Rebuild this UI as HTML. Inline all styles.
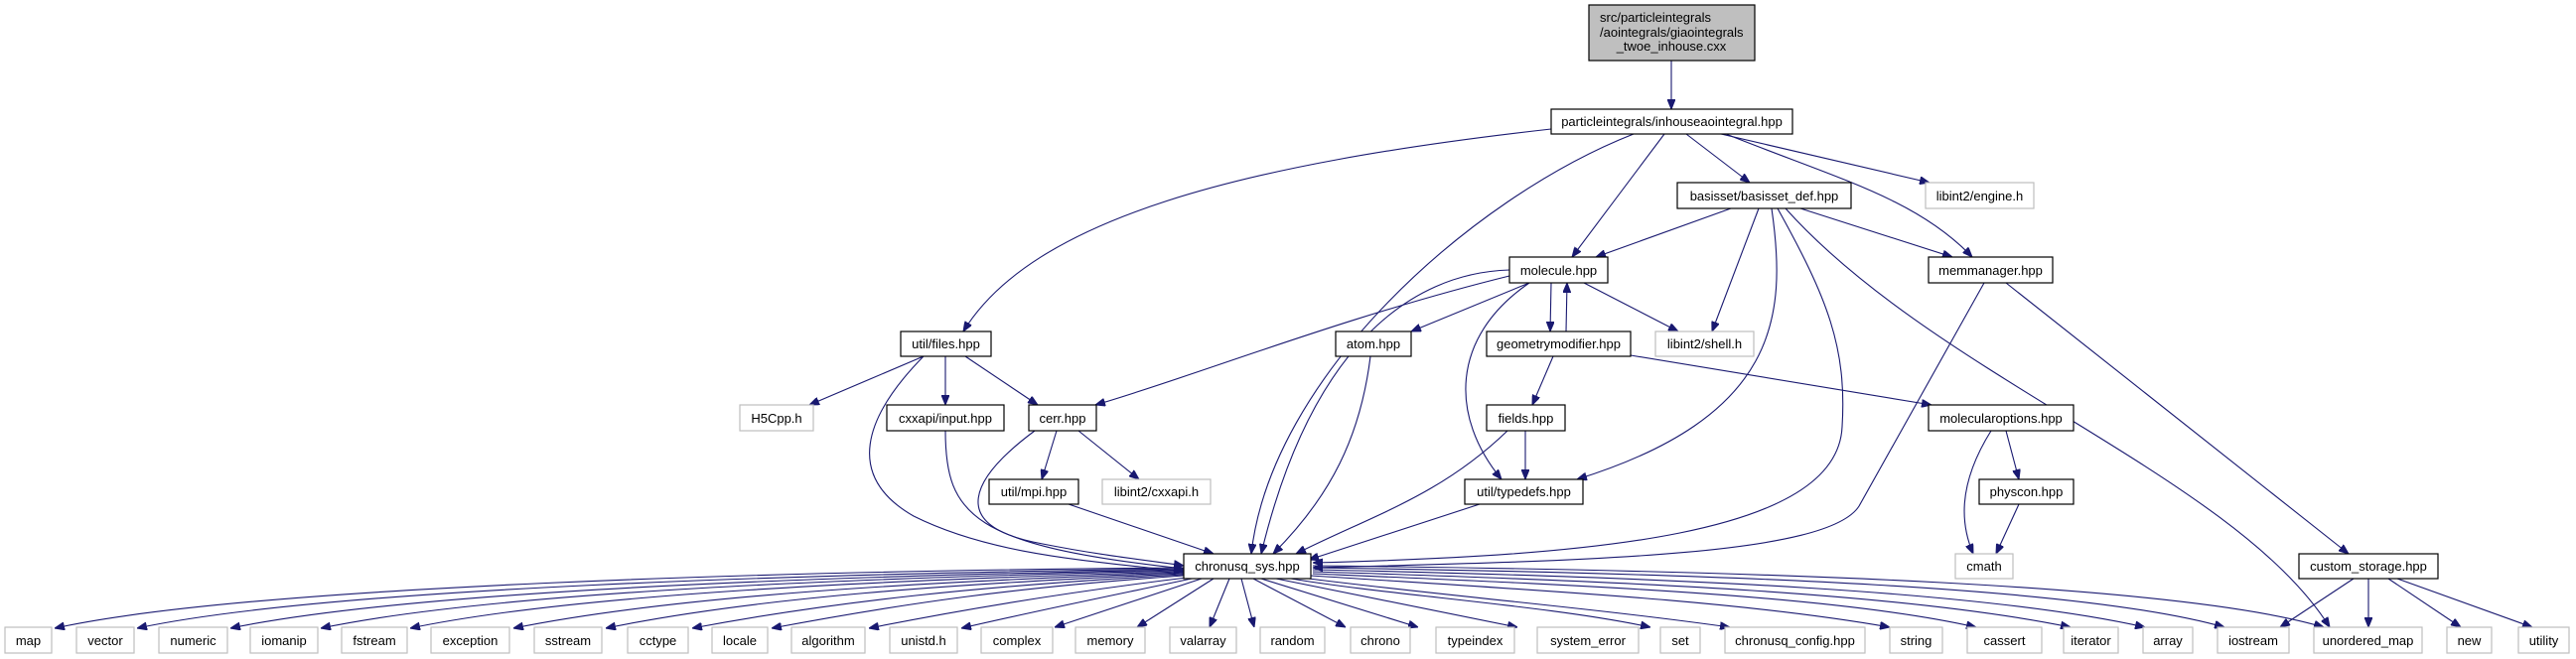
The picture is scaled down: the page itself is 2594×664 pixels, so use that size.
<!DOCTYPE html>
<html><head><meta charset="utf-8"><style>
html,body{margin:0;padding:0;background:#fff;}
svg{display:block;}
text{font-family:"Liberation Sans",Arial,sans-serif;font-size:13px;fill:#000;}
.b{fill:#fff;stroke:#000;stroke-width:1.2;}
.g{fill:#fff;stroke:#bfbfbf;stroke-width:1.2;}
.e{fill:none;stroke:#191970;stroke-width:1.1;}
</style></head><body>
<svg width="2594" height="664" viewBox="0 0 2594 664" xmlns="http://www.w3.org/2000/svg">
<defs><marker id="a" markerWidth="10" markerHeight="8" refX="10" refY="4" orient="auto" markerUnits="userSpaceOnUse"><path d="M0,0 L10,4 L0,8 z" fill="#191970" stroke="#191970"/></marker></defs>
<g class="e" marker-end="url(#a)">
<path d="M1683,61 L1683,110"/>
<path d="M1562,130 C1250,165 1040,220 970,334"/>
<path d="M1645,135 C1480,200 1280,380 1260,558"/>
<path d="M1676,135 L1583,259"/>
<path d="M1698,135 L1762,184"/>
<path d="M1733,135 L1943,184"/>
<path d="M1738,135 C1850,180 1930,200 1986,259"/>
<path d="M1743,210 L1607,259"/>
<path d="M1813,210 L1966,259"/>
<path d="M1771,210 L1724,334"/>
<path d="M1784,210 C1800,320 1790,420 1588,483"/>
<path d="M1790,210 C1840,300 1860,350 1855,430 C1850,540 1600,560 1322,567"/>
<path d="M1798,210 C1950,380 2250,480 2346,632"/>
<path d="M1540,285 C1460,340 1460,420 1512,483"/>
<path d="M1520,272 C1420,275 1320,350 1270,558"/>
<path d="M1520,278 C1350,320 1200,380 1103,408"/>
<path d="M1540,285 L1421,334"/>
<path d="M1562,285 L1561,334"/>
<path d="M1577,334 L1578,285"/>
<path d="M1595,285 L1690,334"/>
<path d="M1564,359 L1543,408"/>
<path d="M1642,358 L1945,408"/>
<path d="M1536,434 L1536,483"/>
<path d="M1518,434 C1450,500 1380,520 1305,558"/>
<path d="M1490,508 L1318,564"/>
<path d="M1998,285 L1872,510 C1840,560 1600,565 1322,572"/>
<path d="M2020,285 L2365,558"/>
<path d="M2020,434 L2033,483"/>
<path d="M2005,434 C1970,490 1975,530 1987,558"/>
<path d="M2033,508 L2010,558"/>
<path d="M930,359 L815,408"/>
<path d="M952,359 L952,408"/>
<path d="M972,359 L1045,408"/>
<path d="M930,359 C870,420 850,480 920,520 C1000,560 1100,565 1192,576"/>
<path d="M952,434 C952,520 980,550 1192,573"/>
<path d="M1042,434 C980,480 950,530 1050,548 C1110,560 1160,565 1192,570"/>
<path d="M1064,434 L1049,483"/>
<path d="M1086,434 L1147,483"/>
<path d="M1076,508 L1222,558"/>
<path d="M1380,359 C1370,440 1340,500 1282,558"/>
<path d="M2370,583 L2296,632"/>
<path d="M2385,583 L2385,632"/>
<path d="M2405,583 L2478,632"/>
<path d="M2414,583 L2550,632"/>
<path d="M1192,572 C800,575 250,590 55,633"/>
<path d="M1192,573 C820,578 330,592 138,633"/>
<path d="M1192,574 C850,580 420,594 232,633"/>
<path d="M1192,575 C870,582 500,596 323,633"/>
<path d="M1192,576 C900,584 580,598 413,633"/>
<path d="M1192,577 C930,586 680,600 517,633"/>
<path d="M1192,578 C960,588 760,602 610,633"/>
<path d="M1192,579 C990,590 840,606 697,633"/>
<path d="M1192,580 C1020,592 910,608 777,633"/>
<path d="M1195,582 C1080,596 980,612 875,633"/>
<path d="M1200,583 C1120,600 1050,614 968,633"/>
<path d="M1210,583 L1062,632"/>
<path d="M1222,583 L1145,632"/>
<path d="M1238,583 L1218,632"/>
<path d="M1250,583 L1263,632"/>
<path d="M1262,583 L1355,632"/>
<path d="M1270,583 L1428,632"/>
<path d="M1285,583 L1528,632"/>
<path d="M1300,583 C1400,600 1560,610 1662,632"/>
<path d="M1310,582 C1450,600 1600,612 1742,632"/>
<path d="M1320,580 C1550,595 1750,605 1903,632"/>
<path d="M1322,578 C1600,590 1850,600 1990,632"/>
<path d="M1322,576 C1650,586 1920,598 2085,632"/>
<path d="M1322,574 C1700,582 2000,596 2160,632"/>
<path d="M1322,572 C1750,578 2100,592 2240,632"/>
<path d="M1322,570 C1800,575 2200,590 2340,632"/>
</g>
<rect x="1600" y="5" width="167" height="56" fill="#bfbfbf" stroke="#000" stroke-width="1.2"/>
<text x="1611" y="22">src/particleintegrals</text>
<text x="1611" y="37">/aointegrals/giaointegrals</text>
<text x="1683" y="51" text-anchor="middle">_twoe_inhouse.cxx</text>
<g text-anchor="middle">
<rect class="b" x="1562" y="110" width="243" height="25"/><text x="1683.5" y="127">particleintegrals/inhouseaointegral.hpp</text>
<rect class="b" x="1689" y="184" width="175" height="26"/><text x="1776.5" y="202">basisset/basisset_def.hpp</text>
<rect class="g" x="1939" y="184" width="109" height="26"/><text x="1993.5" y="202">libint2/engine.h</text>
<rect class="b" x="1520" y="259" width="99" height="26"/><text x="1569.5" y="277">molecule.hpp</text>
<rect class="b" x="1942" y="259" width="125" height="26"/><text x="2004.5" y="277">memmanager.hpp</text>
<rect class="b" x="907" y="334" width="91" height="25"/><text x="952.5" y="351">util/files.hpp</text>
<rect class="b" x="1345" y="334" width="76" height="25"/><text x="1383" y="351">atom.hpp</text>
<rect class="b" x="1497" y="334" width="145" height="25"/><text x="1569.5" y="351">geometrymodifier.hpp</text>
<rect class="g" x="1667" y="334" width="99" height="25"/><text x="1716.5" y="351">libint2/shell.h</text>
<rect class="g" x="745" y="408" width="74" height="26"/><text x="782" y="426">H5Cpp.h</text>
<rect class="b" x="893" y="408" width="118" height="26"/><text x="952" y="426">cxxapi/input.hpp</text>
<rect class="b" x="1036" y="408" width="68" height="26"/><text x="1070" y="426">cerr.hpp</text>
<rect class="b" x="1497" y="408" width="79" height="26"/><text x="1536.5" y="426">fields.hpp</text>
<rect class="b" x="1942" y="408" width="146" height="26"/><text x="2015" y="426">molecularoptions.hpp</text>
<rect class="b" x="996" y="483" width="90" height="25"/><text x="1041" y="500">util/mpi.hpp</text>
<rect class="g" x="1110" y="483" width="109" height="25"/><text x="1164.5" y="500">libint2/cxxapi.h</text>
<rect class="b" x="1475" y="483" width="119" height="25"/><text x="1534.5" y="500">util/typedefs.hpp</text>
<rect class="b" x="1993" y="483" width="95" height="25"/><text x="2040.5" y="500">physcon.hpp</text>
<rect class="b" x="1192" y="558" width="128" height="25"/><text x="1256" y="575">chronusq_sys.hpp</text>
<rect class="g" x="1969" y="558" width="58" height="25"/><text x="1998" y="575">cmath</text>
<rect class="b" x="2315" y="558" width="140" height="25"/><text x="2385" y="575">custom_storage.hpp</text>
</g>
<g text-anchor="middle">
<rect class="g" x="5" y="632" width="47" height="26"/><text x="28.5" y="650">map</text>
<rect class="g" x="77" y="632" width="58" height="26"/><text x="106" y="650">vector</text>
<rect class="g" x="160" y="632" width="69" height="26"/><text x="194.5" y="650">numeric</text>
<rect class="g" x="252" y="632" width="68" height="26"/><text x="286" y="650">iomanip</text>
<rect class="g" x="344" y="632" width="66" height="26"/><text x="377" y="650">fstream</text>
<rect class="g" x="434" y="632" width="79" height="26"/><text x="473.5" y="650">exception</text>
<rect class="g" x="538" y="632" width="68" height="26"/><text x="572" y="650">sstream</text>
<rect class="g" x="632" y="632" width="61" height="26"/><text x="662.5" y="650">cctype</text>
<rect class="g" x="717" y="632" width="56" height="26"/><text x="745" y="650">locale</text>
<rect class="g" x="797" y="632" width="74" height="26"/><text x="834" y="650">algorithm</text>
<rect class="g" x="896" y="632" width="68" height="26"/><text x="930" y="650">unistd.h</text>
<rect class="g" x="988" y="632" width="72" height="26"/><text x="1024" y="650">complex</text>
<rect class="g" x="1083" y="632" width="70" height="26"/><text x="1118" y="650">memory</text>
<rect class="g" x="1178" y="632" width="67" height="26"/><text x="1211.5" y="650">valarray</text>
<rect class="g" x="1269" y="632" width="65" height="26"/><text x="1301.5" y="650">random</text>
<rect class="g" x="1360" y="632" width="60" height="26"/><text x="1390" y="650">chrono</text>
<rect class="g" x="1446" y="632" width="79" height="26"/><text x="1485.5" y="650">typeindex</text>
<rect class="g" x="1548" y="632" width="102" height="26"/><text x="1599" y="650">system_error</text>
<rect class="g" x="1672" y="632" width="40" height="26"/><text x="1692" y="650">set</text>
<rect class="g" x="1737" y="632" width="141" height="26"/><text x="1807.5" y="650">chronusq_config.hpp</text>
<rect class="g" x="1903" y="632" width="53" height="26"/><text x="1929.5" y="650">string</text>
<rect class="g" x="1981" y="632" width="75" height="26"/><text x="2018.5" y="650">cassert</text>
<rect class="g" x="2078" y="632" width="55" height="26"/><text x="2105.5" y="650">iterator</text>
<rect class="g" x="2158" y="632" width="50" height="26"/><text x="2183" y="650">array</text>
<rect class="g" x="2233" y="632" width="72" height="26"/><text x="2269" y="650">iostream</text>
<rect class="g" x="2330" y="632" width="109" height="26"/><text x="2384.5" y="650">unordered_map</text>
<rect class="g" x="2464" y="632" width="45" height="26"/><text x="2486.5" y="650">new</text>
<rect class="g" x="2536" y="632" width="51" height="26"/><text x="2561.5" y="650">utility</text>
</g>
</svg>
</body></html>
